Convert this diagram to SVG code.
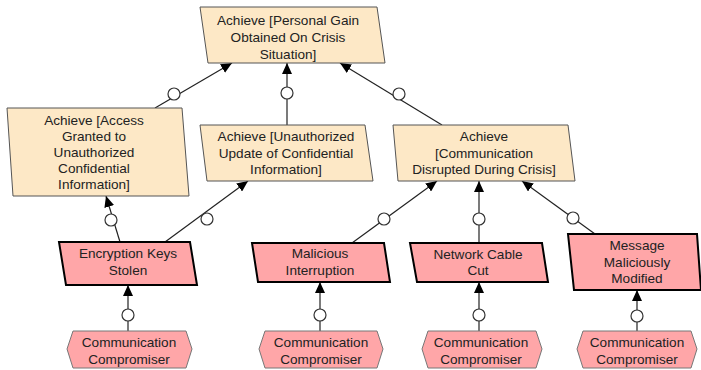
<svg xmlns="http://www.w3.org/2000/svg" width="701" height="370" viewBox="0 0 701 370">
<style>
.goal{fill:#fde8c6;stroke:#555;stroke-width:1}
.ev{fill:#ffa6a8;stroke:#000;stroke-width:2}
.hex{fill:#ffa6a8;stroke:#777;stroke-width:1}
text{font-family:"Liberation Sans",Arial,sans-serif;font-size:13.6px;fill:#222;text-anchor:middle}
.c line{stroke:#222;stroke-width:1.2;marker-end:url(#ah)}
.c circle{fill:#fff;stroke:#333;stroke-width:1.2}
</style>
<defs>
<marker id="ah" markerUnits="userSpaceOnUse" markerWidth="12" markerHeight="10" refX="11" refY="5" orient="auto">
<path d="M0,0 L11,5 L0,10 Z" fill="#000"/>
</marker>
</defs>
<rect width="701" height="370" fill="#fff"/>
<g class="c" id="connectors">
<line x1="155" y1="108" x2="232" y2="63"/><circle cx="174" cy="94" r="6"/>
<line x1="287" y1="125" x2="287" y2="63"/><circle cx="287" cy="93" r="6"/>
<line x1="442" y1="125" x2="340" y2="63"/><circle cx="399" cy="94" r="6"/>
<line x1="120" y1="242" x2="106" y2="196"/><circle cx="111" cy="220" r="6"/>
<line x1="165" y1="242" x2="248" y2="181"/><circle cx="207" cy="219" r="6"/>
<line x1="352" y1="243" x2="437" y2="181"/><circle cx="384" cy="219" r="6"/>
<line x1="479" y1="243" x2="479" y2="181"/><circle cx="479" cy="219" r="6"/>
<line x1="595" y1="234" x2="522" y2="181"/><circle cx="573" cy="218" r="6"/>
<line x1="128" y1="331" x2="128" y2="285"/><circle cx="128" cy="315" r="6"/>
<line x1="320" y1="331" x2="320" y2="282"/><circle cx="320" cy="315" r="6"/>
<line x1="479" y1="331" x2="479" y2="282"/><circle cx="479" cy="315" r="6"/>
<line x1="637" y1="331" x2="637" y2="290"/><circle cx="637" cy="316" r="6"/>
</g>
<g id="g_top">
<polygon class="goal" points="200,7 377,7 385,63 208,63"/>
<text x="288" y="25">Achieve [Personal Gain</text>
<text x="288" y="42">Obtained On Crisis</text>
<text x="288" y="59">Situation]</text>
</g>
<g id="g_access">
<polygon class="goal" points="7,108 182,108 189,196 13,196"/>
<text x="94" y="125">Achieve [Access</text>
<text x="94" y="141">Granted to</text>
<text x="94" y="157">Unauthorized</text>
<text x="94" y="173">Confidential</text>
<text x="94" y="189">Information]</text>
</g>
<g id="g_update">
<polygon class="goal" points="200,125 365,125 373,181 207,181"/>
<text x="286" y="141">Achieve [Unauthorized</text>
<text x="286" y="158">Update of Confidential</text>
<text x="286" y="174">Information]</text>
</g>
<g id="g_comm">
<polygon class="goal" points="393,125 568,125 575,181 398,181"/>
<text x="484" y="141">Achieve</text>
<text x="484" y="158">[Communication</text>
<text x="484" y="174">Disrupted During Crisis]</text>
</g>
<g id="e_keys">
<polygon class="ev" points="59,242 190,242 197,285 66,285"/>
<text x="128" y="258">Encryption Keys</text>
<text x="128" y="275">Stolen</text>
</g>
<g id="e_malint">
<polygon class="ev" points="252,243 384,243 390,282 258,282"/>
<text x="320" y="258">Malicious</text>
<text x="320" y="275">Interruption</text>
</g>
<g id="e_cable">
<polygon class="ev" points="410,243 542,243 548,282 417,282"/>
<text x="478" y="259">Network Cable</text>
<text x="478" y="275">Cut</text>
</g>
<g id="e_msg">
<polygon class="ev" points="568,234 697,234 701,290 574,290"/>
<text x="637" y="250">Message</text>
<text x="637" y="267">Maliciously</text>
<text x="637" y="283">Modified</text>
</g>
<g id="h1">
<polygon class="hex" points="73,331 186,331 192,349 186,368 73,368 67,349"/>
<text x="129" y="347">Communication</text>
<text x="129" y="364">Compromiser</text>
</g>
<g id="h2">
<polygon class="hex" points="265,331 377,331 383,349 377,368 265,368 259,349"/>
<text x="321" y="347">Communication</text>
<text x="321" y="364">Compromiser</text>
</g>
<g id="h3">
<polygon class="hex" points="428,331 536,331 542,349 536,368 428,368 422,349"/>
<text x="481" y="347">Communication</text>
<text x="481" y="364">Compromiser</text>
</g>
<g id="h4">
<polygon class="hex" points="583,331 691,331 697,349 691,368 583,368 577,349"/>
<text x="637" y="347">Communication</text>
<text x="637" y="364">Compromiser</text>
</g>
</svg>
